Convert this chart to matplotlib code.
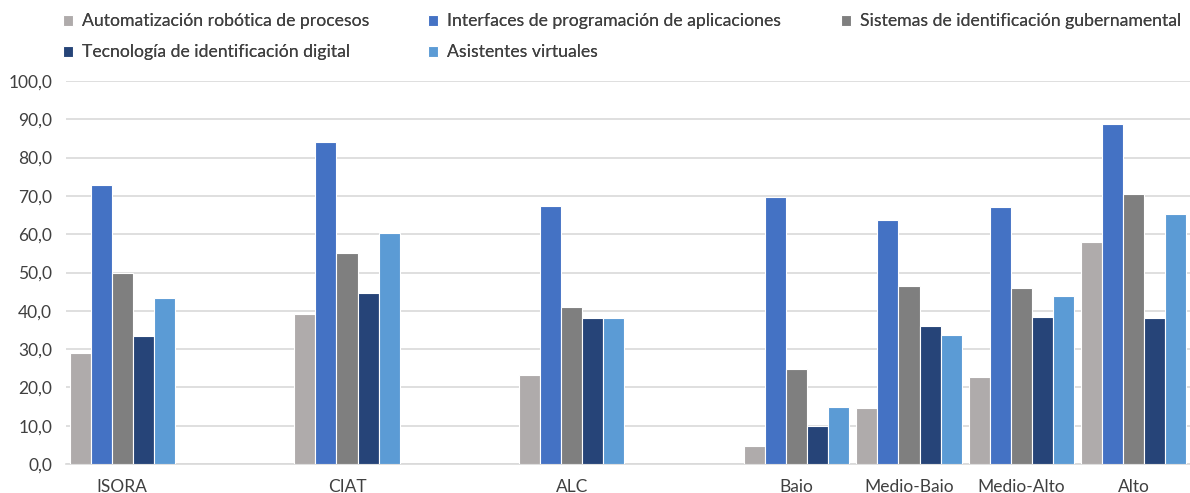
import matplotlib
matplotlib.use("Agg")
import matplotlib.pyplot as plt
from matplotlib.ticker import FuncFormatter
import numpy as np

# categories (ISORA, CIAT, ALC leave an empty slot after them, as in the original)
categories = ["ISORA", "CIAT", "ALC", "Baio", "Medio-Baio", "Medio-Alto", "Alto"]
slots = [0, 2, 4, 6, 7, 8, 9]

series_names = [
    "Automatización robótica de procesos",
    "Tecnología de identificación digital",
    "Interfaces de programación de aplicaciones",
    "Asistentes virtuales",
    "Sistemas de identificación gubernamental",
]
automatizacion = [28.9, 39.2, 23.2, 4.7, 14.6, 22.8, 57.9]
interfaces = [72.9, 84.0, 67.4, 69.7, 63.6, 67.0, 88.9]
sistemas = [50.0, 55.0, 41.0, 24.8, 46.6, 45.9, 70.6]
tecnologia = [33.3, 44.6, 38.0, 9.8, 36.0, 38.3, 38.0]
asistentes = [43.4, 60.3, 38.0, 14.8, 33.8, 43.9, 65.3]

# drawing order inside each group
bar_series = [automatizacion, interfaces, sistemas, tecnologia, asistentes]
bar_labels = [series_names[0], series_names[2], series_names[4], series_names[1], series_names[3]]
colors = ["#AFABAB", "#4472C4", "#7F7F7F", "#264478", "#5B9BD5"]

plt.rcParams['font.family'] = ['Lato', 'DejaVu Sans']

fig = plt.figure(figsize=(11.9, 4.93), dpi=100)
ax = fig.add_axes([66 / 1190, 29 / 493, 1 - 66 / 1190, (464 - 81) / 493])

x = np.array(slots, dtype=float)
w = 0.187
handles = {}
for i, (vals, lab, c) in enumerate(zip(bar_series, bar_labels, colors)):
    b = ax.bar(x + (i - 2) * w, vals, width=w, color=c, edgecolor="white",
               linewidth=0.8, label=lab, zorder=3)
    handles[lab] = b

ax.set_ylim(0, 100)
ax.set_xlim(-0.5, 9.5)
ax.set_yticks(np.arange(0, 101, 10))
ax.yaxis.set_major_formatter(FuncFormatter(lambda v, p: f"{v:.1f}".replace(".", ",")))
ax.set_xticks(x)
ax.set_xticklabels(categories)
ax.grid(axis="y", color="#D9D9D9", linewidth=1.2, zorder=0)
ax.tick_params(axis="both", length=0, labelsize=12.5, colors="#404040")
ax.tick_params(axis="x", pad=11)
ax.tick_params(axis="y", pad=10)
for s in ["top", "right", "left"]:
    ax.spines[s].set_visible(False)
ax.spines["bottom"].set_color("#D9D9D9")
ax.spines["bottom"].set_linewidth(1.2)

# legend: three columns placed like the original
columns = [
    (series_names[0:2], 47),
    (series_names[2:4], 412),
    (series_names[4:5], 825),
]
for names, xpx in columns:
    leg = fig.legend([handles[n] for n in names], names, loc="upper left",
                     bbox_to_anchor=(xpx / 1190, 1.005), frameon=False, fontsize=12.7,
                     handlelength=0.6, handleheight=0.6, handletextpad=0.5,
                     labelspacing=0.85, labelcolor="#404040")
    fig.add_artist(leg)

fig.savefig("out.png", dpi=100)
